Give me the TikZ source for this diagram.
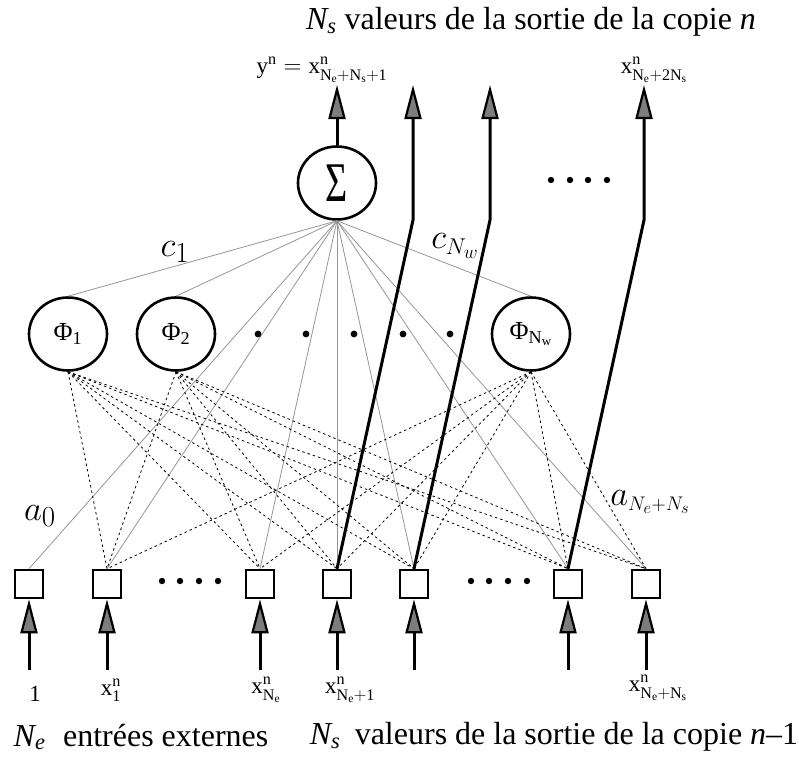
\documentclass[tikz,border=0pt]{standalone}
\usepackage{fontspec}
\setmainfont{Liberation Serif}
\usepackage{tikz}
\usetikzlibrary{arrows.meta,shapes.geometric}
\definecolor{linkc}{RGB}{150,150,150}
\definecolor{headc}{RGB}{125,125,125}
\tikzset{
  neur/.style={ellipse,draw=black,line width=2.6pt,minimum width=78pt,minimum height=73pt,inner sep=0pt,font=\fontsize{26}{28}\selectfont},
  cell/.style={rectangle,draw=black,line width=2.6pt,fill=white,minimum size=28pt,inner sep=0pt},
  wt/.style={linkc,line width=0.8pt},
  dsh/.style={black,line width=0.8pt,dash pattern=on 2.5pt off 3pt},
  sig/.style={-{Triangle[length=34pt,width=17pt,fill=headc,line width=2.2pt]},line width=3pt,black},
  big/.style={inner sep=0pt,font=\fontsize{32}{36}\selectfont},
  val/.style={inner sep=0pt,font=\fontsize{23}{26}\selectfont},
  coef/.style={inner sep=0pt,font=\fontsize{24.88}{28}\selectfont},
}
\newcommand{\xn}[1]{$\mathrm{x}^{\mathrm{n}}_{\mathrm{#1}}$}
% math sizes stop at 24.88pt, so the weights are enlarged
\newcommand{\coefm}[2][1.4]{\scalebox{#1}{$#2$}}

\begin{document}
\begin{tikzpicture}[x=1pt,y=-1pt]
  \useasboundingbox (0,0) rectangle (799,757);

  % input cells, fed from below
  \foreach \x [count=\i from 0] in {29,107,260,337,414,568,646} {
    \node[cell] (in\i) at (\x,584) {};
    \coordinate (src\i) at (\x,670);
    \draw[sig] (src\i) -- (in\i.south);
  }

  % hidden units and output sum
  \node[neur] (phi1) at (68,334) {Φ$_{\mathrm{1}}$};
  \node[neur] (phi2) at (176,334) {Φ$_{\mathrm{2}}$};
  \node[neur] (phiw) at (531,334) {Φ$_{\mathrm{N_w}}$};
  \node[neur] (sum) at (337,183) {\scalebox{0.68}[1]{\fontsize{56}{60}\selectfont Σ}};

  \foreach \t in {phi1,phi2,phiw,in0,in1,in2,in3,in4,in5,in6}
    \draw[wt] (sum.south) -- (\t.north);
  \foreach \p in {phi1,phi2,phiw}
    \foreach \i in {1,...,6}
      \draw[dsh] (\p.south) -- (in\i.north);

  % outputs of copy n
  \coordinate (out1) at (337,85);
  \foreach \x [count=\j from 2] in {413,490,644} {
    \coordinate (bend\j) at (\x,220);
    \coordinate (out\j) at (\x,85);
  }
  \draw[sig] (sum.north) -- (out1);
  \foreach \i/\j in {3/2,4/3,5/4}
    \draw[sig] (in\i.north) -- (bend\j) -- (out\j);

  % ellipsis dots
  \foreach \x in {551,570,588,607} \fill (\x,180) circle (3.2pt);
  \foreach \x in {258,306,354,403,450} \fill (\x,334) circle (3.4pt);
  \foreach \x in {162,180,199,218,471,489,508,527} \fill (\x,581) circle (3.2pt);

  % weights
  \node[coef] (c1) at (175,252) {\coefm{c_1}};
  \node[coef] (cw) at (455,246) {\coefm{c}\coefm[1.1]{{}_{N_w}}};
  \node[coef] (a0) at (40,516) {\coefm{a_0}};
  \node[coef] (an) at (650,502) {\coefm{a}\coefm[0.95]{{}_{N_e+N_s}}};

  % values
  \node[val] (y1) at (322,70) {$\mathrm{y}^{\mathrm{n}} = \mathrm{x}^{\mathrm{n}}_{\mathrm{N_e+N_s+1}}$};
  \node[val] (y2) at (654,70) {\xn{N_e+2N_s}};
  \node[val] (v0) at (35,694) {1};
  \node[val] (v1) at (111,690) {\xn{1}};
  \node[val] (v2) at (266,690) {\xn{N_e}};
  \node[val] (v3) at (350,690) {\xn{N_e+1}};
  \node[val] (v6) at (658,688) {\xn{N_e+N_s}};

  \node[big] (top) at (531,22) {\textit{N\textsubscript{s}} valeurs de la sortie de la copie \textit{n}};
  \node[big] (ext) at (141,737) {\textit{N\textsubscript{e}}\hspace{0.3em} entrées externes};
  \node[big] (rec) at (554,737) {\textit{N\textsubscript{s}}\hspace{0.2em} valeurs de la sortie de la copie \textit{n}–1};
\end{tikzpicture}
\end{document}
